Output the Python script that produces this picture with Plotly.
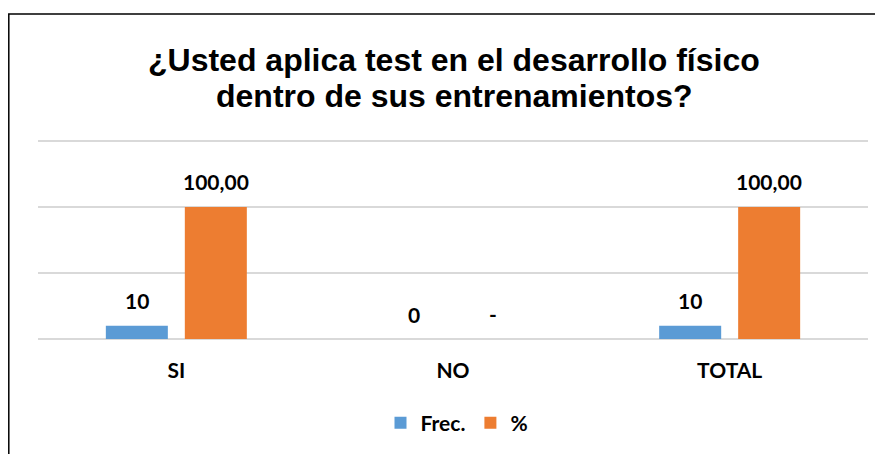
import plotly.graph_objects as go

categories = ["SI", "NO", "TOTAL"]
frec_values = [10, 0, 10]
pct_values = [100, 0, 100]
frec_labels = ["10", "0", "10"]
pct_labels = ["100,00", "-", "100,00"]
series_names = ["Frec.", "%"]
title_lines = ["¿Usted aplica test en el desarrollo físico", "dentro de sus entrenamientos?"]

BLUE = "#5B9BD5"
ORANGE = "#ED7D31"
LBL_FONT = dict(family="Lato, Open Sans, sans-serif", size=21, color="#000000")

W, H = 875, 446
L, R, T, B = 30, 15, 130, 115
PW, PH = W - L - R, H - T - B
YMAX = 150 * PH / 198.0


def px_to_paper_x(px):
    return (px - L) / PW


def px_to_paper_y(py):
    return (H - B - py) / PH


fig = go.Figure()
fig.add_trace(go.Bar(x=categories, y=frec_values, name="<b>%s</b>" % series_names[0],
                     marker=dict(color=BLUE, line=dict(width=0))))
fig.add_trace(go.Bar(x=categories, y=pct_values, name="<b>%s</b>" % series_names[1],
                     marker=dict(color=ORANGE, line=dict(width=0))))

annotations = []
for cat, v, t in zip(categories, frec_values, frec_labels):
    annotations.append(dict(x=cat, y=v, text="<b>%s</b>" % t, xref="x", yref="y",
                            showarrow=False, xshift=-39.5, yshift=25, yanchor="middle",
                            font=LBL_FONT))
for cat, v, t in zip(categories, pct_values, pct_labels):
    annotations.append(dict(x=cat, y=v, text="<b>%s</b>" % t, xref="x", yref="y",
                            showarrow=False, xshift=39.5, yshift=26, yanchor="middle",
                            font=LBL_FONT))

TITLE_FONT = dict(family="Liberation Sans, Arial, sans-serif", size=32, color="#000000")
for line, py in zip(title_lines, [52, 88]):
    annotations.append(dict(x=px_to_paper_x(446), y=px_to_paper_y(py), xref="paper", yref="paper",
                            text="<b>%s</b>" % line, showarrow=False, xanchor="center",
                            yanchor="middle", font=TITLE_FONT))

fig.update_layout(
    width=W, height=H,
    margin=dict(l=L, r=R, t=T, b=B),
    paper_bgcolor="white", plot_bgcolor="white",
    barmode="group", bargap=0.429, bargroupgap=0.215,
    xaxis=dict(showline=False, showgrid=False, zeroline=False,
               ticks="outside", ticklen=13, tickcolor="rgba(0,0,0,0)",
               tickfont=dict(family="Lato, Open Sans, sans-serif", size=21, color="#000000"),
               tickprefix="<b>", ticksuffix="</b>"),
    yaxis=dict(range=[0, YMAX], tickmode="array", tickvals=[0, 50, 100, 150],
               showticklabels=False, showline=False,
               showgrid=True, gridcolor="#D9D9D9", gridwidth=1.5,
               zeroline=True, zerolinecolor="#D9D9D9", zerolinewidth=1.5, fixedrange=True),
    legend=dict(orientation="h", xref="container", yref="container",
                x=449 / W, xanchor="center", y=1 - 415 / H, yanchor="middle",
                font=dict(family="Lato, Open Sans, sans-serif", size=21, color="#000000"),
                itemwidth=30, traceorder="normal"),
    showlegend=True,
    annotations=annotations,
    shapes=[dict(type="rect", xref="paper", yref="paper",
                 x0=px_to_paper_x(0.8), x1=px_to_paper_x(900),
                 y0=px_to_paper_y(500), y1=px_to_paper_y(6),
                 line=dict(color="#000000", width=1.5), fillcolor="rgba(0,0,0,0)",
                 layer="below")],
)

fig.write_html("out.html")
